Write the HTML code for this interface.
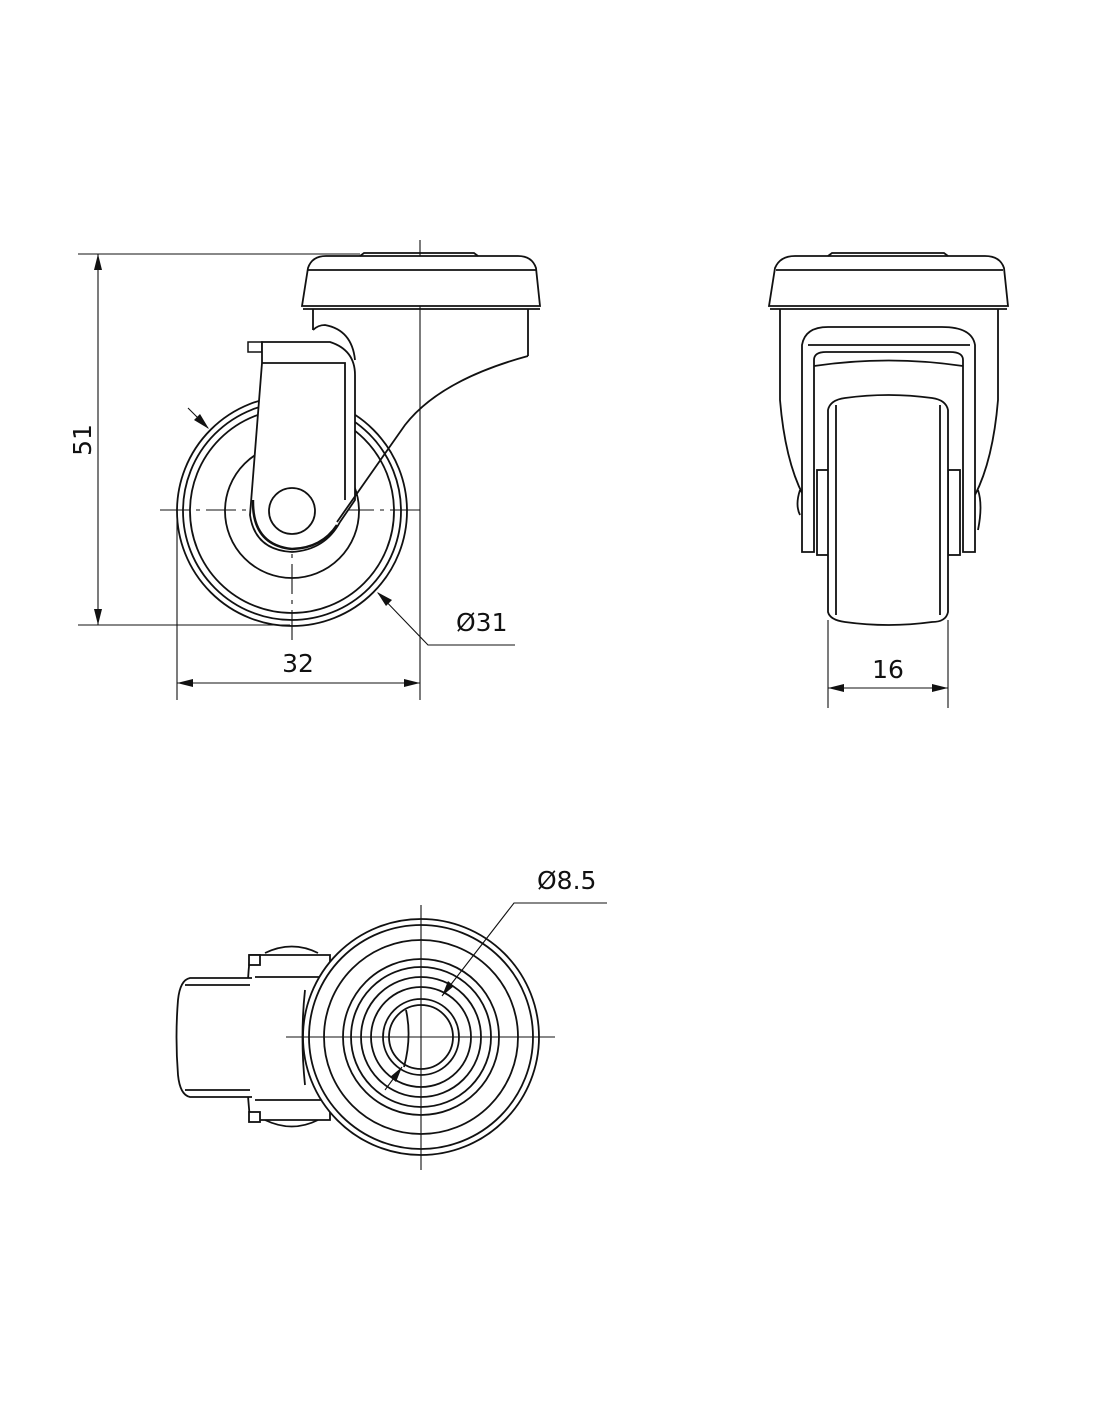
<!DOCTYPE html>
<html><head><meta charset="utf-8"><style>
html,body{margin:0;padding:0;background:#fff}
svg{display:block}
text{font-family:"DejaVu Sans","Liberation Sans",sans-serif;font-size:25px;fill:#111}
</style></head><body>
<svg width="1100" height="1422" viewBox="0 0 1100 1422" xmlns="http://www.w3.org/2000/svg">
<g fill="none" stroke="#111" stroke-width="1.1">
<line x1="78" y1="254" x2="360" y2="254"/>
<line x1="78" y1="625" x2="290" y2="625"/>
<line x1="98" y1="254" x2="98" y2="625"/>
<line x1="177" y1="520" x2="177" y2="700"/>
<line x1="420" y1="240" x2="420" y2="700"/>
<line x1="177" y1="683" x2="420" y2="683"/>
<polyline points="515,645 428,645 378,593"/>
<line x1="188" y1="408" x2="208" y2="428"/>
<line x1="160" y1="510" x2="425" y2="510" stroke-dasharray="30,6,4,6"/>
<line x1="292" y1="380" x2="292" y2="640" stroke-dasharray="30,6,4,6"/>
</g>
<g fill="none" stroke="#111" stroke-width="1.8">
<circle cx="292" cy="511" r="115"/>
<circle cx="292" cy="511" r="109"/>
<circle cx="292" cy="511" r="102"/>
<circle cx="292" cy="511" r="67" />
<path d="M302,306 L308,268 Q312,256 326,256 L518,256 Q532,256 536,268 L540,306 Z" fill="#fff"/>
<line x1="308" y1="270" x2="536" y2="270"/>
<path d="M360,256 L364,253 L474,253 L478,256"/>
<line x1="303" y1="309" x2="540" y2="309"/>
<path d="M313,309 L313,330 M528,309 L528,356"/>
<path d="M248,342 L248,352 L262,352 L262,342 Z" fill="#fff" stroke-width="1.5"/>
<path d="M262,342 L330,342 Q355,350 355,375 L355,500 L340,522 Q325,550 292,552 Q255,550 250,515 L262,363 Z" fill="#fff"/>
<path d="M262,363 L345,363 L345,500"/>
<path d="M313,330 Q318,325 325,325 Q352,330 355,360"/>
<path d="M253,500 Q252,545 292,549 Q322,548 337,525" stroke-width="2.5"/>
<circle cx="292" cy="511" r="23" fill="#fff"/>
<path d="M337,522 L405,425 Q440,380 528,356" fill="none"/>
</g>
<g fill="none" stroke="#111" stroke-width="1.8">
<path d="M769,306 L775,268 Q780,256 795,256 L985,256 Q1000,256 1004,268 L1008,306 Z"/>
<line x1="776" y1="270" x2="1003" y2="270"/>
<path d="M828,256 L832,253 L944,253 L948,256"/>
<line x1="770" y1="309" x2="1007" y2="309"/>
<path d="M780,309 L780,400 Q785,460 803,495"/>
<path d="M998,309 L998,400 Q993,460 975,495"/>
<path d="M802,345 Q805,327 828,327 L942,327 Q972,327 975,345 L975,552 L963,552 L963,360 Q963,352 950,352 L826,352 Q814,352 814,360 L814,552 L802,552 Z" fill="#fff"/>
<line x1="808" y1="345" x2="970" y2="345"/>
<path d="M814,366 Q888,355 963,366"/>
<path d="M800,515 Q795,505 800,490 M978,490 Q983,505 978,530"/>
<rect x="817" y="470" width="12" height="85"/>
<rect x="948" y="470" width="12" height="85"/>
<path d="M828,410 Q830,400 845,398 Q888,392 932,398 Q946,400 948,410 L948,612 Q946,622 932,622 Q888,628 845,622 Q830,620 828,612 Z" fill="#fff"/>
<line x1="836" y1="405" x2="836" y2="615"/>
<line x1="940" y1="405" x2="940" y2="615"/>
</g>
<g fill="none" stroke="#111" stroke-width="1.1">
<line x1="828" y1="620" x2="828" y2="708"/>
<line x1="948" y1="620" x2="948" y2="708"/>
<line x1="828" y1="688" x2="948" y2="688"/>
</g>
<g fill="none" stroke="#111" stroke-width="1.8">
<path d="M265,953 Q292,940 318,953"/>
<path d="M265,1120 Q292,1133 318,1120"/>
<path d="M250,955 L330,955 L330,1120 L250,1120 Q242,1037 250,955 Z" fill="#fff"/>
<line x1="255" y1="977" x2="325" y2="977"/>
<line x1="255" y1="1100" x2="325" y2="1100"/>
<rect x="249" y="955" width="11" height="10" fill="#fff"/>
<rect x="249" y="1112" width="11" height="10" fill="#fff"/>
<path d="M252,978 L190,978 Q180,980 178,1000 Q175,1037 178,1075 Q180,1095 190,1097 L252,1097" fill="#fff"/>
<line x1="185" y1="985" x2="250" y2="985"/>
<line x1="185" y1="1090" x2="250" y2="1090"/>
<circle cx="421" cy="1037" r="118" fill="#fff"/>
<circle cx="421" cy="1037" r="112"/>
<circle cx="421" cy="1037" r="97"/>
<circle cx="421" cy="1037" r="78"/>
<circle cx="421" cy="1037" r="70"/>
<circle cx="421" cy="1037" r="60"/>
<circle cx="421" cy="1037" r="50"/>
<circle cx="421" cy="1037" r="38"/>
<circle cx="421" cy="1037" r="32"/>
<path d="M406,1010 Q412,1037 404,1067"/>
<path d="M305,990 Q300,1037 305,1085"/>
</g>
<g fill="none" stroke="#111" stroke-width="1.1">
<line x1="421" y1="905" x2="421" y2="1170"/>
<line x1="286" y1="1037" x2="555" y2="1037"/>
<polyline points="607,903 514,903 442,996"/>
<line x1="385" y1="1090" x2="402" y2="1067"/>
</g>
<g fill="#111" stroke="none">
<polygon points="98,254 94,270 102,270"/>
<polygon points="98,625 94,609 102,609"/>
<polygon points="177,683 193,679 193,687"/>
<polygon points="420,683 404,679 404,687"/>
<polygon points="377,592 386,606 392,600"/>
<polygon points="209,429 194,420 200,414"/>
<polygon points="828,688 844,684 844,692"/>
<polygon points="948,688 932,684 932,692"/>
<polygon points="442,996 448,981 454,986"/>
<polygon points="402,1067 396,1082 390,1077"/>
</g>
<text x="82" y="440" text-anchor="middle" transform="rotate(-90 82 440)" dy="9">51</text>
<text x="298" y="672" text-anchor="middle">32</text>
<text x="456" y="631">Ø31</text>
<text x="888" y="678" text-anchor="middle">16</text>
<text x="537" y="889">Ø8.5</text>
</svg>
</body></html>
